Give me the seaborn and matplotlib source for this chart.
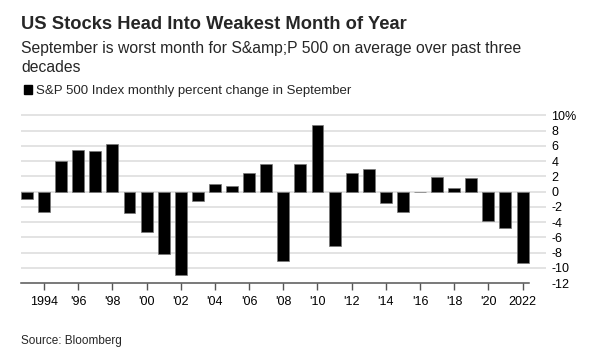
import numpy as np
import pandas as pd
import seaborn as sns
import matplotlib.pyplot as plt
from matplotlib.patches import Rectangle

# S&P 500 monthly percent change in September
YEARS = list(range(1993, 2023))
CHANGES = [-0.99, -2.69, 4.01, 5.42, 5.32, 6.24, -2.86, -5.35, -8.17, -11.00,
           -1.19, 0.94, 0.69, 2.46, 3.58, -9.08, 3.57, 8.76, -7.18, 2.42,
           2.97, -1.55, -2.64, -0.12, 1.93, 0.43, 1.72, -3.92, -4.76, -9.34]
TICK_YEARS = list(range(1994, 2023, 2))
TICK_LABELS = ["1994"] + ["'" + str(y)[2:] for y in TICK_YEARS[1:-1]] + ["2022"]
Y_TICKS = list(range(-12, 11, 2))
Y_LABELS = [str(v) for v in Y_TICKS[:-1]] + ["10%"]

TITLE = "US Stocks Head Into Weakest Month of Year"
SUBTITLE_1 = "September is worst month for S&amp;P 500 on average over past three"
SUBTITLE_2 = "decades"
LEGEND = "S&P 500 Index monthly percent change in September"
SOURCE = "Source: Bloomberg"

sns.set_style("white")
plt.rcParams["font.family"] = ["Liberation Sans", "DejaVu Sans"]

df = pd.DataFrame({"year": [str(y) for y in YEARS], "change": CHANGES})

fig = plt.figure(figsize=(5.95, 3.56), dpi=100)
# axes spans from the first bar's left edge to the end of the gridlines
ax = fig.add_axes([0.0353, 0.205, 0.8823, 0.4775])

sns.barplot(data=df, x="year", y="change", color="black", width=0.7,
            edgecolor="#777777", linewidth=0.5, saturation=1, ax=ax, zorder=3)

ax.set_xlim(-0.35, 30.37)
ax.set_ylim(-12, 10.3)
ax.set_yticks(Y_TICKS)
ax.set_yticklabels(Y_LABELS)
ax.yaxis.tick_right()
ax.tick_params(axis="y", length=0, pad=4, labelsize=9, labelcolor="black")
ax.grid(axis="y", color="#e3e3e3", lw=1.4, zorder=0)
ax.yaxis.get_gridlines()[0].set_visible(False)

ax.set_xticks([y - YEARS[0] for y in TICK_YEARS])
ax.set_xticklabels(TICK_LABELS)
ax.tick_params(axis="x", length=5, width=1, color="#555555", pad=4,
               labelsize=9, labelcolor="black", bottom=True)
ax.set_xlabel("")
ax.set_ylabel("")

for side in ["top", "left", "right"]:
    ax.spines[side].set_visible(False)
ax.spines["bottom"].set_bounds(-0.35, 29.35)
ax.spines["bottom"].set_color("#555555")
ax.spines["bottom"].set_linewidth(1.1)
ax.spines["bottom"].set_zorder(4)

fig.text(0.0353, 1 - 29 / 356, TITLE, fontsize=13.2, fontweight="bold", va="baseline")
fig.text(0.0353, 1 - 53 / 356, SUBTITLE_1, fontsize=11.3, va="baseline")
fig.text(0.0353, 1 - 72 / 356, SUBTITLE_2, fontsize=11.3, va="baseline")
fig.patches.append(Rectangle((23.5 / 595, 1 - 94 / 356), 8 / 595, 9 / 356,
                             transform=fig.transFigure, color="black"))
fig.text(36.5 / 595, 1 - 94 / 356, LEGEND, fontsize=9.5, va="baseline")
fig.text(0.0353, 1 - 344 / 356, SOURCE, fontsize=8.5, va="baseline")

fig.savefig("out.png", dpi=100)
